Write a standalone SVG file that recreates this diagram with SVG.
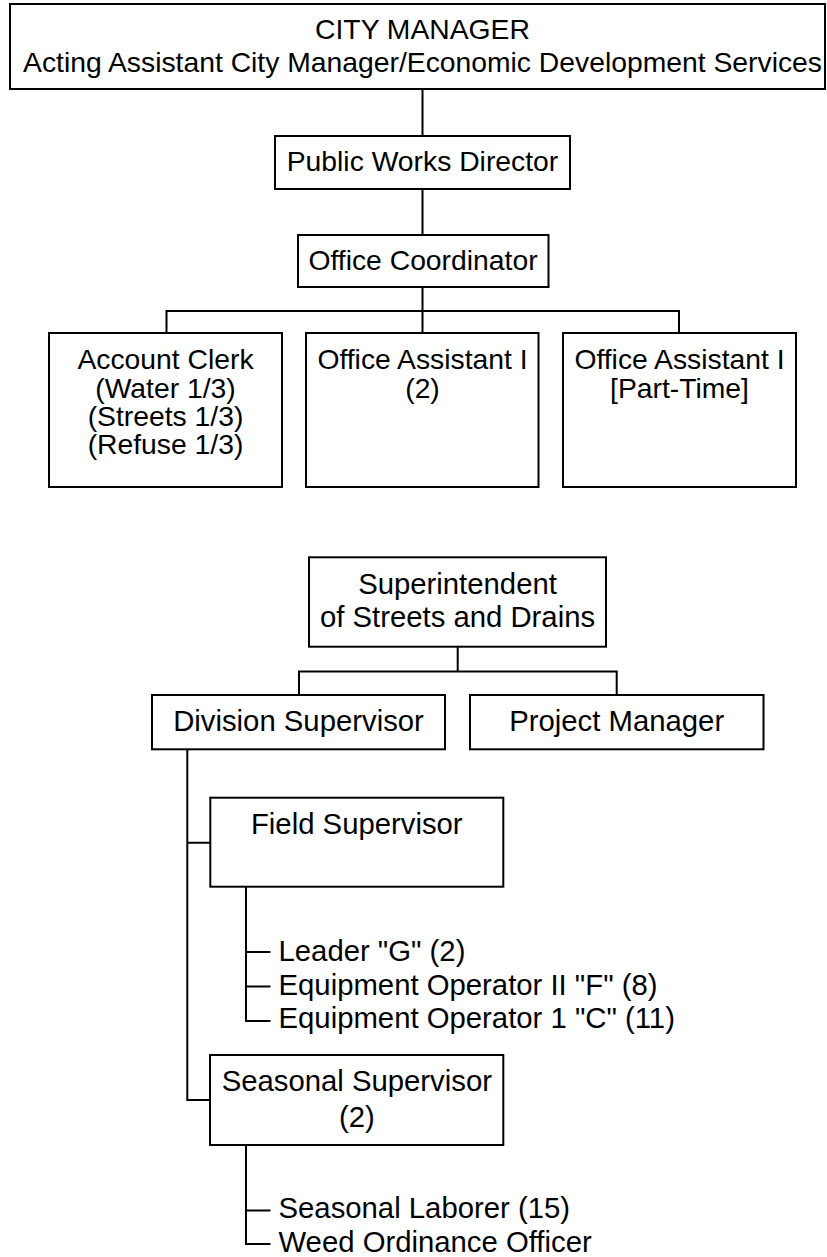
<svg xmlns="http://www.w3.org/2000/svg" width="827" height="1257" viewBox="0 0 827 1257">
<style>
.box{fill:#fff;stroke:#000;stroke-width:2}
.ln{fill:none;stroke:#000;stroke-width:2}
text{font-family:"Liberation Sans",Arial,Helvetica,sans-serif;fill:#000}
.u{font-size:28.3px;text-anchor:middle}
.l{font-size:29.3px;text-anchor:middle}
.li{font-size:29.3px;text-anchor:start}
</style>
<rect width="827" height="1257" fill="#fff"/>
<g id="connectors" class="ln">
<path d="M422.5 89V136M422.5 189V235M422.5 287V311M166.5 333V311H679V333M422.5 311V333"/>
<path d="M457.7 646.7V671.5M299 695V671.5H616.7V695"/>
<path d="M187.3 749.3V1100H210M187.3 842.7H210.3"/>
<path d="M246 886.7V1021H270.5M246 952H270.5M246 986.5H270.5"/>
<path d="M246 1145V1244H270.5M246 1210.5H270.5"/>
</g>
<g id="city-manager">
<rect class="box" x="10" y="4" width="815" height="85"/>
<text class="u" x="422.5" y="39">CITY MANAGER</text>
<text class="u" x="422.5" y="72">Acting Assistant City Manager/Economic Development Services</text>
</g>
<g id="public-works-director">
<rect class="box" x="275" y="136" width="295" height="53"/>
<text class="u" x="422.5" y="171">Public Works Director</text>
</g>
<g id="office-coordinator">
<rect class="box" x="298" y="235" width="250.5" height="52"/>
<text class="u" x="423" y="270">Office Coordinator</text>
</g>
<g id="account-clerk">
<rect class="box" x="49" y="333" width="233" height="154"/>
<text class="u" x="165.5" y="369">Account Clerk</text>
<text class="u" x="165.5" y="397.5">(Water 1/3)</text>
<text class="u" x="165.5" y="426">(Streets 1/3)</text>
<text class="u" x="165.5" y="454">(Refuse 1/3)</text>
</g>
<g id="office-assistant-1">
<rect class="box" x="306" y="333" width="232.5" height="154"/>
<text class="u" x="422.5" y="369">Office Assistant I</text>
<text class="u" x="422.5" y="397.5">(2)</text>
</g>
<g id="office-assistant-pt">
<rect class="box" x="563" y="333" width="233" height="154"/>
<text class="u" x="679.5" y="369">Office Assistant I</text>
<text class="u" x="679.5" y="397.5">[Part-Time]</text>
</g>
<g id="superintendent">
<rect class="box" x="309" y="557.3" width="297" height="89.4"/>
<text class="l" x="457.5" y="594">Superintendent</text>
<text class="l" x="457.5" y="627.3">of Streets and Drains</text>
</g>
<g id="division-supervisor">
<rect class="box" x="152" y="695" width="293" height="54.3"/>
<text class="l" x="298.5" y="731">Division Supervisor</text>
</g>
<g id="project-manager">
<rect class="box" x="470" y="695" width="293.5" height="54.3"/>
<text class="l" x="616.7" y="731">Project Manager</text>
</g>
<g id="field-supervisor">
<rect class="box" x="210.3" y="797.7" width="293" height="89"/>
<text class="l" x="356.8" y="834">Field Supervisor</text>
</g>
<g id="field-staff">
<text class="li" x="278.5" y="960.5">Leader "G" (2)</text>
<text class="li" x="278.5" y="994.5">Equipment Operator II "F" (8)</text>
<text class="li" x="278.5" y="1028">Equipment Operator 1 "C" (11)</text>
</g>
<g id="seasonal-supervisor">
<rect class="box" x="210" y="1055" width="293.3" height="90"/>
<text class="l" x="356.8" y="1091">Seasonal Supervisor</text>
<text class="l" x="356.8" y="1127">(2)</text>
</g>
<g id="seasonal-staff">
<text class="li" x="278.5" y="1218.3">Seasonal Laborer (15)</text>
<text class="li" x="278.5" y="1252">Weed Ordinance Officer</text>
</g>
</svg>
